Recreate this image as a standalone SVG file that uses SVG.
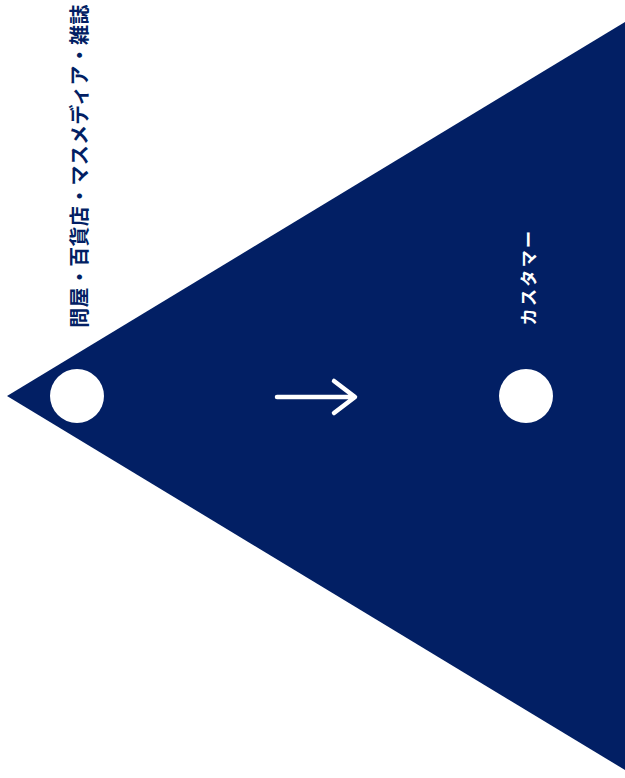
<svg xmlns="http://www.w3.org/2000/svg" width="625" height="778" viewBox="0 0 625 778">
<style>
.tri{fill:#021f64}
.dot{fill:#ffffff}
.lbl{font-family:"Noto Sans CJK JP","Noto Sans",sans-serif;font-weight:bold;text-anchor:middle;dominant-baseline:central}
.arrow{fill:none;stroke:#ffffff;stroke-width:4.5;stroke-linecap:round;stroke-linejoin:round}
</style>
<rect width="625" height="778" fill="#ffffff"/>
<g id="funnel"><polygon class="tri" points="7,396 625,22 625,770"/></g>
<g id="node-wholesale">
<circle class="dot" cx="77" cy="396" r="27"/>
<text class="lbl" transform="translate(78,166) rotate(-90)" font-size="20" letter-spacing="0.3" fill="#021f64">問屋・百貨店・マスメディア・雑誌</text>
</g>
<g id="node-customer">
<circle class="dot" cx="526" cy="396" r="27"/>
<text class="lbl" transform="translate(527,277) rotate(-90)" font-size="17" letter-spacing="2.4" fill="#ffffff">カスタマー</text>
</g>
<g id="connectors">
<path class="arrow" d="M277,397 H354 M334,381 L355,397 L334,413"/>
</g>
</svg>
